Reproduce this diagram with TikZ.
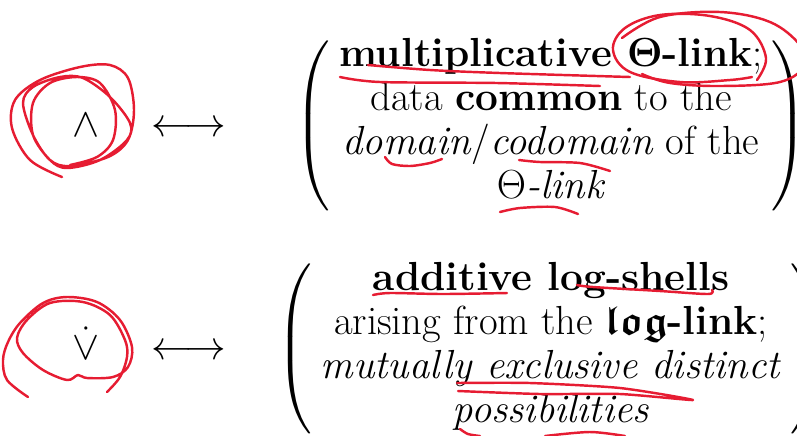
\RequirePackage{fix-cm}
\documentclass[tikz,border=0pt]{standalone}
\usepackage{amsmath,amssymb}
\usepackage{exscale}
\usetikzlibrary{positioning}

\definecolor{annotred}{RGB}{230,28,50}

\tikzset{
  bigfont/.style={font=\fontsize{20.74}{22.4}\selectfont},
  mathrow/.style={bigfont, anchor=base, inner sep=0pt},
  textblock/.style={bigfont, anchor=base, align=center, inner sep=0pt},
  paren/.style={bigfont, inner sep=0pt},
  annot/.style={draw=annotred, line width=1.25pt, line cap=round, line join=round},
}
% half of the height asked for each bracket
\newcommand{\parenbody}{\vcenter{\hrule height 84pt width 0pt}}

\begin{document}
\begin{tikzpicture}[x=0.511pt, y=-0.511pt]
  % Parameters (pixel grid, y pointing down)
  \def\symx{86}   % x of the symbols
  \def\arrx{189}  % x of the arrows
  \def\blockx{551} % x of the text blocks
  \def\rowA{136}  % baseline of the first row
  \def\rowB{359}  % baseline of the second row
  \def\pgap{3pt}  % gap between brackets and text

  \useasboundingbox (0,0) rectangle (797,435);

  % First row: multiplicative
  \node[mathrow] (wedge) at (\symx,\rowA) {$\wedge$};
  \node[mathrow] (arrmult) at (\arrx,\rowA) {$\longleftrightarrow$};
  \node[textblock] (mult) at (\blockx,198) {%
      \textbf{multiplicative $\boldsymbol{\Theta}$-link}; \\
      data \textbf{common} to the \\
      \emph{domain}/\emph{codomain} of the \\
      \emph{$\Theta$-link}};
  \node[paren, anchor=east] (lparmult) at ([xshift=-\pgap]mult.west |- 0,126) {$\left(\parenbody\right.$};
  \node[paren, anchor=west] (rparmult) at ([xshift=\pgap]mult.east |- 0,126) {$\left.\parenbody\right)$};

  % Second row: additive
  \node[mathrow] (dotvee) at (\symx,\rowB) {$\dot{\vee}$};
  \node[mathrow] (arradd) at (\arrx,\rowB) {$\longleftrightarrow$};
  \node[textblock] (add) at (\blockx,422) {%
      \textbf{additive log-shells} \\
      arising from the $\boldsymbol{\mathfrak{log}}$\textbf{-link}; \\
      \emph{mutually exclusive distinct} \\
      \emph{possibilities}};
  \node[paren, anchor=east] (lparadd) at ([xshift=-\pgap]add.west |- 0,349) {$\left(\parenbody\right.$};
  \node[paren, anchor=west] (rparadd) at ([xshift=\pgap]add.east |- 0,349) {$\left.\parenbody\right)$};

  % Hand-drawn marks round the symbols
  \draw[annot] plot[smooth, tension=0.55] coordinates {
      (62,177) (30,160) (12,128) (15,100) (40,80) (80,67) (110,65) (128,78)
      (134,110) (128,140) (108,157) (70,166) (50,160) (33,135) (23,103)
      (33,87) (60,77) (83,78) (110,97) (130,123) (127,140) (100,160) (67,168)
      (50,160) (33,135) (33,103) (50,83) (77,77) (100,83) (115,110) (113,140)
      (97,157) (70,165)};
  \draw[annot] plot[smooth, tension=0.55] coordinates {
      (28,397) (7,380) (3,360) (8,342) (20,323) (43,303) (67,297) (97,302)
      (120,320) (132,347) (128,367) (113,377) (87,378) (78,375) (67,380)
      (43,370) (23,353) (17,338) (27,320) (50,303) (83,302) (110,315)
      (125,340) (127,357) (120,377) (107,392)};

  % Hand-drawn marks in the first block
  \draw[annot] plot[smooth] coordinates {(368,65) (430,70) (500,73) (630,77)};
  \draw[annot] plot[smooth] coordinates {(340,77) (380,82) (497,83) (600,86)};
  \draw[annot] plot[smooth, tension=0.6] coordinates {
      (757,80) (766,58) (750,30) (710,16) (660,15) (625,28) (613,50) (630,72)
      (680,82) (730,80) (752,77)};
  \draw[annot] plot[smooth, tension=0.6] coordinates {
      (622,38) (660,17) (720,12) (770,22) (800,45) (805,65) (780,82) (720,86)
      (670,83) (642,74)};
  \draw[annot] plot[smooth] coordinates {(385,157) (392,164) (410,166) (430,163) (442,159)};
  \draw[annot] plot[smooth] coordinates {(519,160) (540,162) (580,163) (610,171)};
  \draw[annot] plot[smooth] coordinates {(500,212) (520,208) (555,207) (578,214)};

  % Hand-drawn marks in the second block
  \draw[annot] plot[smooth] coordinates {(373,295) (390,293) (443,294) (507,293)};
  \draw[annot] plot[smooth] coordinates {(577,285) (593,287) (660,291) (708,294) (712,290)};
  \draw[annot] plot[smooth, tension=0.4] coordinates {
      (457,383) (530,383) (620,388) (693,400) (620,394) (540,394) (458,391)};
  \draw[annot] plot[smooth] coordinates {(460,429) (468,434) (480,436)};
  \draw[annot] plot[smooth] coordinates {(545,436) (590,432) (625,436)};
\end{tikzpicture}
\end{document}
